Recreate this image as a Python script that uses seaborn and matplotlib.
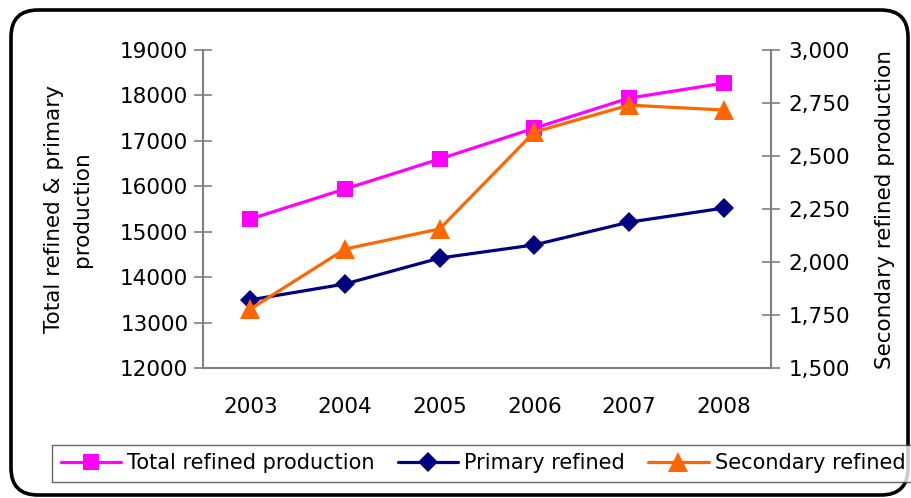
import matplotlib
matplotlib.use("Agg")
import matplotlib.pyplot as plt
import seaborn as sns
import numpy as np
from matplotlib.patches import FancyBboxPatch
from matplotlib.ticker import FuncFormatter, FixedLocator

years = ["2003", "2004", "2005", "2006", "2007", "2008"]
total_refined = [15280, 15940, 16600, 17280, 17940, 18270]
primary_refined = [13500, 13850, 14420, 14710, 15210, 15520]
secondary_refined = [1778, 2061, 2156, 2613, 2740, 2717]

sns.set_style("white")
plt.rcParams['font.family'] = ['DejaVu Sans']
plt.rcParams['text.color'] = 'black'
plt.rcParams['axes.labelcolor'] = 'black'
plt.rcParams['xtick.color'] = 'black'
plt.rcParams['ytick.color'] = 'black'
FS = 15.5

W, H = 911, 498
fig = plt.figure(figsize=(W/100, H/100), dpi=100)
ax = fig.add_axes([203/W, 1-368/H, (771-203)/W, (368-50)/H])
ax2 = ax.twinx()

idx = np.arange(len(years))
gray = '#808080'

sns.lineplot(x=idx, y=total_refined, ax=ax, color='#FF00FF', marker='s',
             markersize=11, markeredgewidth=0, linewidth=2.3,
             label='Total refined production', legend=False)
sns.lineplot(x=idx, y=primary_refined, ax=ax, color='#000080', marker='D',
             markersize=10.5, markeredgewidth=0, linewidth=2.3,
             label='Primary refined', legend=False)
sns.lineplot(x=idx, y=secondary_refined, ax=ax2, color='#FF6600', marker='^',
             markersize=15, markeredgewidth=0, linewidth=2.3,
             label='Secondary refined', legend=False)

ax.set_xlim(-0.5, len(years) - 0.5)
ax.set_ylim(12000, 19000)
ax.set_yticks(np.arange(12000, 19001, 1000))
ax2.set_ylim(1500, 3000)
ax2.set_yticks(np.arange(1500, 3001, 250))
ax2.yaxis.set_major_formatter(FuncFormatter(lambda v, p: f"{int(v):,}"))

ax.set_xticks(idx)
ax.set_xticklabels(years)
ax.xaxis.set_minor_locator(FixedLocator(np.arange(-0.5, len(years), 1.0)))
ax.tick_params(axis='x', which='major', length=0, pad=21, labelsize=FS,
               labelcolor='black')
ax.tick_params(axis='x', which='minor', direction='inout', length=13, width=1.2, color=gray)
ax.tick_params(axis='y', direction='inout', length=13, width=1.2, color=gray,
               labelsize=FS, pad=4, left=True, labelcolor='black')
ax2.tick_params(axis='y', direction='inout', length=13, width=1.2, color=gray,
                labelsize=FS, pad=6, right=True, labelcolor='black')

for a in (ax, ax2):
    for s in a.spines.values():
        s.set_color(gray)
        s.set_linewidth(1.5)
    a.spines['top'].set_visible(False)
    a.grid(False)
ax.spines['right'].set_visible(False)
ax2.spines['left'].set_visible(False)
ax2.spines['bottom'].set_visible(False)

ax.set_xlabel("")
ax.set_ylabel("Total refined & primary\nproduction", fontsize=FS, labelpad=20,
              linespacing=1.5, color='black')
ax2.set_ylabel("Secondary refined production", fontsize=FS, labelpad=18,
               color='black')

h1, lab1 = ax.get_legend_handles_labels()
h2, lab2 = ax2.get_legend_handles_labels()
leg = fig.legend(h1 + h2, lab1 + lab2, loc='lower left', ncol=3,
                 bbox_to_anchor=(52/W, 1-482/H), frameon=True, fancybox=False,
                 edgecolor='#404040', fontsize=15, handlelength=2.9,
                 handletextpad=0.3, columnspacing=1.1, borderaxespad=0,
                 borderpad=0.42)
leg.get_frame().set_linewidth(1.0)
for t in leg.get_texts():
    t.set_color('black')

border = FancyBboxPatch((0.11, 0.03), 8.97, 4.85,
                        boxstyle="round,pad=0,rounding_size=0.27",
                        transform=fig.dpi_scale_trans, fill=False,
                        edgecolor='black', linewidth=2.6, clip_on=False)
fig.patches.append(border)

fig.savefig("out.png", dpi=100)
